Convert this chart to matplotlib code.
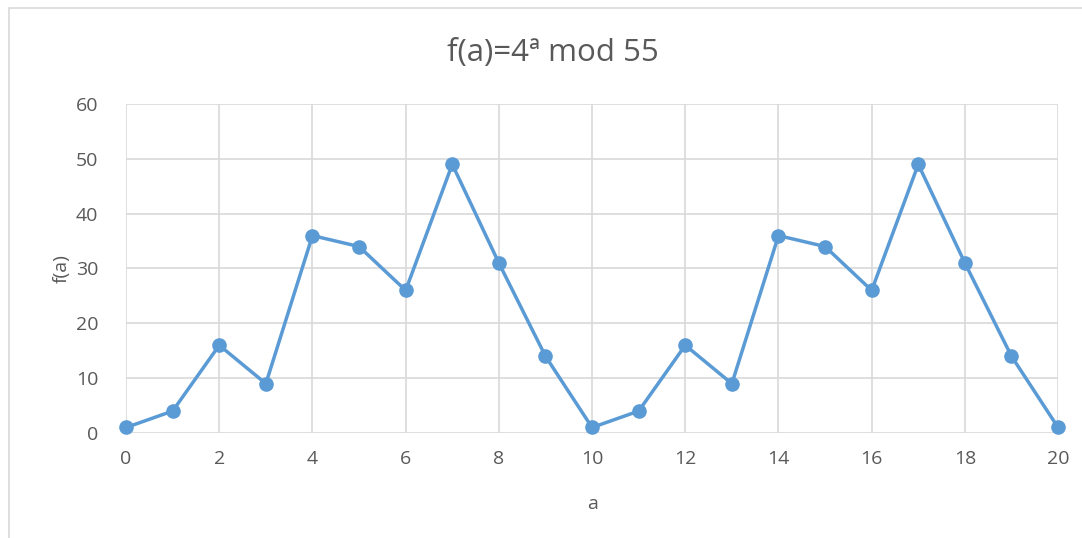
import matplotlib
matplotlib.use("Agg")
import matplotlib.pyplot as plt
from matplotlib.patches import Rectangle

plt.rcParams["font.family"] = ["Open Sans", "DejaVu Sans"]

# a values and f(a) = 4^a mod 55
a_vals = list(range(21))
f_vals = [1, 4, 16, 9, 36, 34, 26, 49, 31, 14, 1, 4, 16, 9, 36, 34, 26, 49, 31, 14, 1]

TEXT = "#595959"
GRID = "#d9d9d9"
LINE = "#5b9bd5"

fig = plt.figure(figsize=(10.82, 5.38), dpi=100)
ax = fig.add_axes([0.1165, 0.1952, 0.8614, 0.6115])

ax.plot(a_vals, f_vals, color=LINE, linewidth=2.5, marker="o", markersize=9.5,
        clip_on=False, zorder=3)

ax.set_xlim(0, 20)
ax.set_ylim(0, 60)
ax.set_xticks(range(0, 21, 2))
ax.set_yticks(range(0, 61, 10))
ax.grid(True, color=GRID, linewidth=1.2)
ax.set_axisbelow(True)
for s in ax.spines.values():
    s.set_visible(False)
ax.tick_params(length=0, labelsize=14, colors=TEXT)
ax.tick_params(axis="x", pad=12)
ax.tick_params(axis="y", pad=20)

ax.set_xlabel("a", fontsize=14, color=TEXT, labelpad=20)
ax.set_ylabel("f(a)", fontsize=14, color=TEXT, labelpad=4)
fig.text(0.511, 0.902, "f(a)=4ª mod 55", ha="center", va="center",
         fontsize=22.5, color=TEXT)

# chart-area border (Excel style)
fig.patches.append(Rectangle((9 / 1082, -0.05), 1.2, 1 - 8 / 538 + 0.05,
                             transform=fig.transFigure, fill=False,
                             edgecolor=GRID, linewidth=1.2))

fig.savefig("out.png", dpi=100)
